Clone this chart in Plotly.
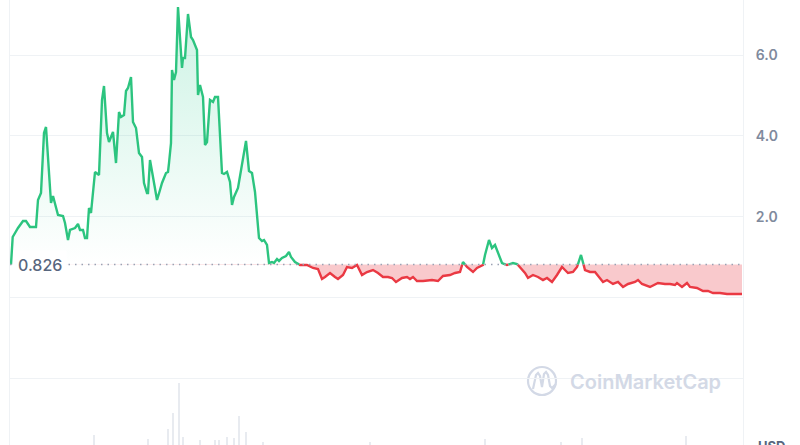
import plotly.graph_objects as go

BASE = 0.826

days = [0, 0.85, 3.5, 6, 7.5, 9.5, 12.5, 13.5, 15, 16.5, 17.5, 18.5, 20, 21, 22.5, 23.5, 26, 27, 28.5, 29.5,
        32, 33.5, 34.5, 36, 37, 38, 39, 40, 42, 44, 45.5, 46.5, 48, 49, 51, 52.5, 54, 55, 56.5, 57.5,
        58.5, 60, 61, 62.5, 64, 65.5, 66.5, 68, 68.5, 69.5, 71, 72.5, 73, 74.5, 75.5, 77.5, 78.5, 79, 80, 80.5,
        81.5, 82.5, 83.5, 85.5, 86, 87, 88.5, 90, 91, 93, 93.5, 94.5, 96, 97, 98, 99.5, 101, 102, 103.5, 105.5,
        106.5, 108, 109.5, 110.5, 111.5, 113.5, 115.5, 117.5, 119, 120.5, 122, 123, 124, 125.5, 126.5, 128, 129, 130.5,
        131.5, 133, 134, 135.5, 137.5, 139, 140, 142, 144.5, 148, 151, 153.5, 155.5, 157, 159.5, 162, 163.5, 166,
        168, 170.5, 173, 175.5, 178, 181, 183.5, 186, 188.5, 190.5, 192.5, 195.5, 198, 199.5, 201, 203, 206, 210.5,
        213.5, 216, 219.5, 222, 224.5, 226, 228, 231, 233, 236, 237, 239, 240.5, 242, 243.5, 245.5, 248, 251,
        253, 254.5, 257, 258.5, 261, 263.5, 266, 268, 270.5, 273, 275.5, 277, 278.5, 281, 283, 285, 287, 289.5,
        292, 294, 296, 298, 301, 303.5, 306, 308.5, 312, 313.5, 315.5, 319.5, 323.5, 327, 329.5, 332, 333, 335.5,
        338, 339.5, 343, 346, 348.5, 351, 354.5, 358, 361, 365.5]

prices = [0.826, 1.506, 1.728, 1.901, 1.901, 1.753, 1.753, 2.420, 2.593, 4.074, 4.222, 3.481, 2.346, 2.519, 2.222, 2.049, 2.025, 1.852, 1.432, 1.679,
          1.728, 1.827, 1.679, 1.679, 1.481, 1.481, 2.222, 2.099, 3.111, 3.037, 4.889, 5.235, 4.074, 3.852, 4.099, 3.333, 4.593, 4.469, 4.519, 5.111,
          5.185, 5.457, 4.346, 4.198, 3.580, 3.481, 2.840, 2.593, 2.593, 3.407, 2.988, 2.494, 2.420, 2.667, 2.840, 3.086, 3.111, 3.333, 3.827, 5.630,
          5.383, 5.580, 7.185, 5.679, 5.926, 5.926, 7.012, 6.444, 6.370, 6.123, 5.012, 5.259, 4.963, 3.778, 3.852, 4.889, 4.840, 4.963, 4.963, 3.086,
          3.062, 3.111, 2.864, 2.296, 2.494, 2.716, 3.284, 3.877, 3.136, 3.086, 2.617, 2.099, 1.481, 1.407, 1.432, 1.309, 0.864, 0.889,
          0.864, 0.963, 0.914, 0.988, 1.037, 1.136, 1.012, 0.889, 0.815, 0.815, 0.741, 0.716, 0.469, 0.519, 0.617, 0.519, 0.469, 0.568,
          0.765, 0.741, 0.815, 0.568, 0.642, 0.691, 0.617, 0.519, 0.519, 0.494, 0.395, 0.494, 0.519, 0.469, 0.519, 0.420, 0.420, 0.444,
          0.420, 0.543, 0.568, 0.617, 0.642, 0.889, 0.765, 0.642, 0.741, 0.815, 1.062, 1.432, 1.235, 1.309, 1.111, 0.864, 0.815, 0.864,
          0.840, 0.765, 0.617, 0.494, 0.568, 0.519, 0.444, 0.494, 0.395, 0.568, 0.765, 0.691, 0.617, 0.642, 0.765, 1.062, 0.691, 0.642,
          0.642, 0.519, 0.395, 0.444, 0.346, 0.395, 0.272, 0.346, 0.395, 0.444, 0.346, 0.272, 0.370, 0.346, 0.346, 0.321, 0.370, 0.272,
          0.370, 0.272, 0.247, 0.173, 0.173, 0.123, 0.123, 0.099, 0.099, 0.099]

vol_days = [41.5, 68.5, 78.5, 81, 84, 86, 94.5, 102, 104, 108, 111.5, 114, 117.5, 126, 179.5, 237, 275, 285.5, 337.5]
volumes = [5, 3, 8, 16, 31, 4, 2.5, 2.5, 2.5, 4, 3.5, 14.5, 6.5, 1.5, 1.5, 3, 1.5, 3.5, 4.5]

tick_vals = [-2, 0, 2, 4, 6]
tick_text = ["", "", "2.0", "4.0", "6.0"]

GREEN = "#2cc47f"
RED = "#ea3943"

# insert crossing points with the baseline
xs, ys = [days[0]], [prices[0]]
for i in range(1, len(days)):
    x0, y0, x1, y1 = days[i - 1], prices[i - 1], days[i], prices[i]
    if (y0 - BASE) * (y1 - BASE) < 0:
        t = (BASE - y0) / (y1 - y0)
        xs.append(x0 + t * (x1 - x0))
        ys.append(BASE)
    xs.append(x1)
    ys.append(y1)

up_line = [y if y >= BASE else None for y in ys]
dn_line = [y if y <= BASE else None for y in ys]
up_fill = [max(y, BASE) for y in ys]
dn_fill = [min(y, BASE) for y in ys]
base_line = [BASE] * len(xs)

fig = go.Figure()

fig.add_trace(go.Bar(x=vol_days, y=volumes, yaxis="y2", width=0.7,
                     marker=dict(color="#e8ebf0", line=dict(width=0)), hoverinfo="skip"))

fig.add_trace(go.Scatter(x=xs, y=base_line, mode="lines", line=dict(width=0), hoverinfo="skip"))
fig.add_trace(go.Scatter(x=xs, y=up_fill, mode="lines", line=dict(width=0), fill="tonexty",
                         fillgradient=dict(type="vertical",
                                           colorscale=[[0, "rgba(22,199,132,0.0)"], [1, "rgba(22,199,132,0.22)"]]),
                         hoverinfo="skip"))
fig.add_trace(go.Scatter(x=xs, y=base_line, mode="lines", line=dict(width=0), hoverinfo="skip"))
fig.add_trace(go.Scatter(x=xs, y=dn_fill, mode="lines", line=dict(width=0), fill="tonexty",
                         fillcolor="rgba(234,57,67,0.27)", hoverinfo="skip"))

fig.add_trace(go.Scatter(x=xs, y=up_line, mode="lines", line=dict(color=GREEN, width=2.4), connectgaps=False))
fig.add_trace(go.Scatter(x=xs, y=dn_line, mode="lines", line=dict(color=RED, width=2.4), connectgaps=False))

# baseline dotted
fig.add_shape(type="line", xref="paper", x0=0, x1=1, yref="y", y0=BASE, y1=BASE,
              line=dict(color="#9aa2b4", width=1.5, dash="1.5px,5px"), layer="above")

L, R, W, H = 10, 57, 800, 445
PW = W - L - R


def px(x, y):
    return (x - L) / PW, (H - y) / H


def path(points):
    s = ""
    for i, (x, y) in enumerate(points):
        a, b = px(x, y)
        s += ("M" if i == 0 else "L") + f"{a:.5f},{b:.5f} "
    return s


# watermark logo
cx0, cy0 = px(528, 367)
cx1, cy1 = px(556, 395)
fig.add_shape(type="circle", xref="paper", yref="paper", x0=cx0, x1=cx1, y0=cy1, y1=cy0,
              line=dict(color="#d3d9e6", width=2.2), layer="below")
fig.add_shape(type="path", xref="paper", yref="paper",
              path=path([(533, 389), (536, 375), (538, 373), (540, 376), (542, 387), (544, 374),
                         (546, 372), (548, 375), (550, 386), (552, 388), (556, 384)]),
              line=dict(color="#d3d9e6", width=2.2), layer="below")

wx, wy = px(645, 382)
fig.add_annotation(xref="paper", yref="paper", x=wx, y=wy, text="CoinMarketCap", showarrow=False,
                   font=dict(family="Inter, sans-serif", size=20, color="#d3d9e6", weight=600),
                   xanchor="center", yanchor="middle")

fig.add_annotation(xref="x", yref="y", x=0, y=BASE, text="0.826", showarrow=False,
                   xanchor="left", yanchor="middle", xshift=2, bgcolor="white", borderpad=4,
                   font=dict(family="Inter, sans-serif", size=16, color="#58667e", weight=500))

ux, uy = px(756, 436)
fig.add_annotation(xref="paper", yref="paper", x=ux, y=uy, text="USD", showarrow=False,
                   xanchor="left", yanchor="top",
                   font=dict(family="Inter, sans-serif", size=13, color="#58667e", weight=700))

fig.update_layout(
    width=W, height=H,
    margin=dict(l=L, r=R, t=0, b=0),
    paper_bgcolor="white", plot_bgcolor="white",
    showlegend=False, hovermode=False,
    bargap=0,
    xaxis=dict(range=[-0.5, 366], showgrid=False, zeroline=False, showticklabels=False, showline=False),
    yaxis=dict(range=[-3.630, 7.358], side="right", tickvals=tick_vals, ticktext=tick_text,
               gridcolor="#eff2f5", gridwidth=1, zeroline=False, showline=True, mirror=True,
               linecolor="#eff2f5", linewidth=1, ticks="", ticklabelstandoff=9,
               tickfont=dict(family="Inter, sans-serif", size=14, color="#808a9d", weight=600)),
    yaxis2=dict(overlaying="y", range=[0, 222], visible=False),
)

fig.write_html("out.html", config={"displayModeBar": False},
               post_script="document.body.style.margin='0';document.body.style.overflow='hidden';")
